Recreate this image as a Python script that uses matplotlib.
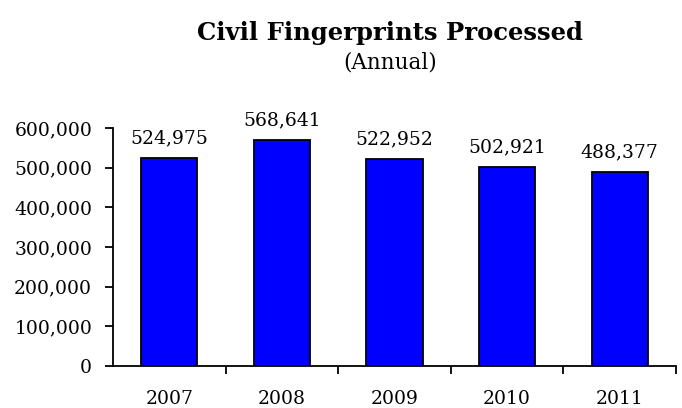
import matplotlib
matplotlib.use("Agg")
import matplotlib.pyplot as plt
from matplotlib.ticker import FuncFormatter, FixedLocator

years = ["2007", "2008", "2009", "2010", "2011"]
values = [524975, 568641, 522952, 502921, 488377]

plt.rcParams['font.family'] = ['DejaVu Serif']

fig = plt.figure(figsize=(6.82, 4.08), dpi=100)
ax = fig.add_axes([113/682, 1-366/408, (676-113)/682, (366-128)/408])

x = list(range(len(years)))
ax.bar(x, values, width=0.5, color='#0000FF', edgecolor='black', linewidth=1.3, zorder=2)
for xi, v in zip(x, values):
    ax.annotate(f"{v:,}", xy=(xi, v), xytext=(0, 10.5), textcoords='offset points',
                ha='center', va='baseline', fontsize=13.5)

ax.set_xlim(-0.5, len(years) - 0.5)
ax.set_ylim(0, 600000)
ax.set_yticks(range(0, 600001, 100000))
ax.yaxis.set_major_formatter(FuncFormatter(lambda v, p: f"{int(v):,}"))
ax.set_xticks(x)
ax.set_xticklabels(years)
ax.xaxis.set_minor_locator(FixedLocator([i + 0.5 for i in x]))
ax.tick_params(axis='x', which='major', length=0, pad=17, labelsize=13.5)
ax.tick_params(axis='x', which='minor', length=6, width=1.3, direction='out')
ax.tick_params(axis='y', length=6, width=1.3, direction='out', labelsize=13.5, pad=9)
for s in ['top', 'right']:
    ax.spines[s].set_visible(False)
for s in ['left', 'bottom']:
    ax.spines[s].set_linewidth(1.3)

fig.text(390/682, 1-33/408, "Civil Fingerprints Processed", ha='center', va='center',
         fontsize=17.5, fontweight='bold')
fig.text(390/682, 1-62/408, "(Annual)", ha='center', va='center', fontsize=15.5)

fig.savefig("out.png", dpi=100)
